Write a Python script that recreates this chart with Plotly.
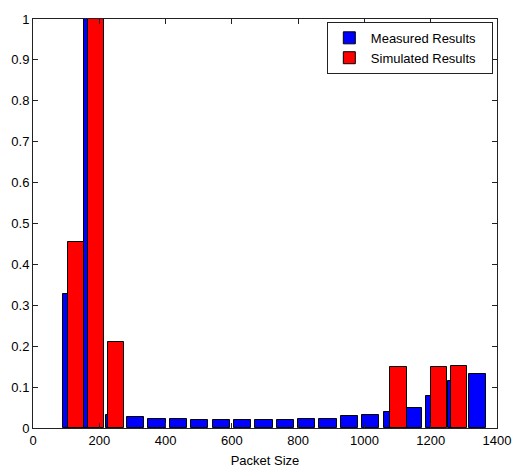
import plotly.graph_objects as go

# Bin centres (packet size) and normalised values
measured_x = [116, 181, 245, 310, 374, 439, 503, 568, 632, 697,
              761, 826, 890, 955, 1019, 1084, 1148, 1213, 1277, 1341]
measured_y = [0.327, 1.0, 0.032, 0.026, 0.023, 0.023, 0.020, 0.020, 0.019, 0.020,
              0.020, 0.023, 0.023, 0.029, 0.032, 0.038, 0.050, 0.079, 0.114, 0.131]

simulated_x = [129, 190, 251, 312, 373, 434, 494, 555, 616, 677,
               738, 799, 860, 920, 981, 1042, 1103, 1164, 1225, 1286]
simulated_y = [0.456, 1.0, 0.21, 0, 0, 0, 0, 0, 0, 0,
               0, 0, 0, 0, 0, 0, 0.148, 0, 0.148, 0.152]

x_ticks = [0, 200, 400, 600, 800, 1000, 1200, 1400]
y_ticks = [0, 0.1, 0.2, 0.3, 0.4, 0.5, 0.6, 0.7, 0.8, 0.9, 1]

FONT = "Liberation Sans, Arial, sans-serif"
PAD = "\u00a0\u00a0\u00a0"

fig = go.Figure()
fig.add_trace(go.Bar(
    x=measured_x, y=measured_y, width=52, name="Measured Results" + PAD,
    marker=dict(color="#0000FF", line=dict(color="black", width=1)),
))
fig.add_trace(go.Bar(
    x=simulated_x, y=[v if v > 0 else None for v in simulated_y], width=49,
    name="Simulated Results" + PAD,
    marker=dict(color="#FF0000", line=dict(color="black", width=1)),
))

axis_common = dict(
    showline=True, linecolor="#222222", linewidth=1, mirror="ticks",
    ticks="inside", ticklen=5, tickcolor="#222222", showgrid=False,
    zeroline=False, automargin=False,
    tickfont=dict(family=FONT, size=13, color="black"),
)

fig.update_layout(
    width=514, height=468,
    margin=dict(l=33, r=17, t=19, b=40),
    paper_bgcolor="white", plot_bgcolor="white",
    barmode="overlay", bargap=0,
    showlegend=True,
    legend=dict(
        x=0.991, y=0.993, xanchor="right", yanchor="top",
        bgcolor="white", bordercolor="#222222", borderwidth=1,
        font=dict(family=FONT, size=13, color="black"),
        tracegroupgap=0, itemwidth=33,
    ),
    xaxis=dict(range=[0, 1400], tickvals=x_ticks,
               title=dict(text="Packet Size", standoff=9,
                          font=dict(family=FONT, size=13, color="black")),
               **axis_common),
    yaxis=dict(range=[0, 1], tickvals=y_ticks, **axis_common),
)

fig.write_html("out.html")
